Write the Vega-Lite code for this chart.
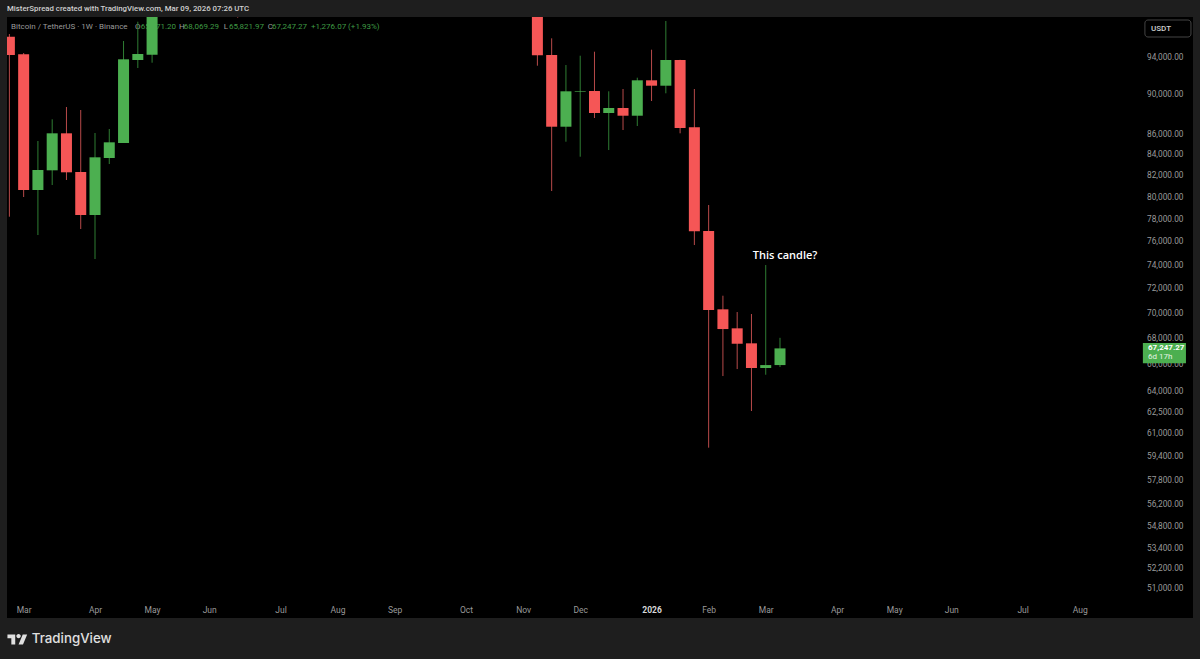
{
  "$schema": "https://vega.github.io/schema/vega-lite/v6.json",
  "width": 1186,
  "height": 601,
  "autosize": "none",
  "padding": {"left": 7, "top": 17, "right": 7, "bottom": 41},
  "background": "#1e1e1e",
  "title": {
    "text": "MisterSpread created with TradingView.com, Mar 09, 2026 07:26 UTC",
    "anchor": "start",
    "frame": "group",
    "offset": 4,
    "font": "Roboto",
    "fontSize": 7.8,
    "fontWeight": 500,
    "color": "#d0d0d0"
  },
  "config": {"view": {"fill": "#000000", "stroke": null}},
  "datasets": {
    "candles": [
      {"date": "2025-02-24", "open": 96219, "high": 96518, "low": 78236, "close": 94216},
      {"date": "2025-03-03", "open": 94291, "high": 94433, "low": 80028, "close": 80675},
      {"date": "2025-03-10", "open": 80675, "high": 85349, "low": 76607, "close": 82551},
      {"date": "2025-03-17", "open": 82522, "high": 87504, "low": 81139, "close": 86107},
      {"date": "2025-03-24", "open": 86107, "high": 88750, "low": 81607, "close": 82333},
      {"date": "2025-03-31", "open": 82362, "high": 88445, "low": 77138, "close": 78389},
      {"date": "2025-04-07", "open": 78389, "high": 86137, "low": 74523, "close": 83764},
      {"date": "2025-04-14", "open": 83698, "high": 86534, "low": 83122, "close": 85220},
      {"date": "2025-04-21", "open": 85153, "high": 95745, "low": 85153, "close": 93752},
      {"date": "2025-04-28", "open": 93677, "high": 97893, "low": 92819, "close": 94325},
      {"date": "2025-05-05", "open": 94249, "high": 104300, "low": 93386, "close": 104000},
      {"date": "2025-06-16", "open": 105500, "high": 108900, "low": 98350, "close": 100900},
      {"date": "2025-11-10", "open": 104700, "high": 106000, "low": 93065, "close": 94183},
      {"date": "2025-11-17", "open": 94216, "high": 96042, "low": 80582, "close": 86763},
      {"date": "2025-11-24", "open": 86763, "high": 93139, "low": 85280, "close": 90366},
      {"date": "2025-12-01", "open": 90335, "high": 94140, "low": 83822, "close": 90397},
      {"date": "2025-12-08", "open": 90397, "high": 94574, "low": 87635, "close": 88140},
      {"date": "2025-12-15", "open": 88140, "high": 90366, "low": 84469, "close": 88649},
      {"date": "2025-12-22", "open": 88649, "high": 90606, "low": 86434, "close": 87867},
      {"date": "2025-12-29", "open": 87867, "high": 91791, "low": 86832, "close": 91516},
      {"date": "2026-01-05", "open": 91516, "high": 94792, "low": 89365, "close": 90950},
      {"date": "2026-01-12", "open": 90950, "high": 97971, "low": 90159, "close": 93677},
      {"date": "2026-01-19", "open": 93677, "high": 93700, "low": 86107, "close": 86633},
      {"date": "2026-01-26", "open": 86704, "high": 90606, "low": 75732, "close": 76934},
      {"date": "2026-02-02", "open": 76960, "high": 79296, "low": 59995, "close": 70279},
      {"date": "2026-02-09", "open": 70336, "high": 71445, "low": 65144, "close": 68760},
      {"date": "2026-02-16", "open": 68816, "high": 70117, "low": 65671, "close": 67608},
      {"date": "2026-02-23", "open": 67640, "high": 69957, "low": 62578, "close": 65747},
      {"date": "2026-03-02", "open": 65747, "high": 74009, "low": 65242, "close": 65971.2},
      {"date": "2026-03-09", "open": 65971.2, "high": 68069.29, "low": 65821.97, "close": 67247.27}
    ]
  },
  "data": {"name": "candles"},
  "encoding": {
    "x": {
      "field": "date",
      "type": "temporal",
      "title": null,
      "scale": {
        "type": "utc",
        "padding": 0,
        "domain": ["2025-02-22T20:00:00Z", "2026-09-27T14:00:00Z"]
      },
      "axis": {
        "values": ["2025-03-03", "2025-04-07", "2025-05-05", "2025-06-02", "2025-07-07", "2025-08-04", "2025-09-01", "2025-10-06", "2025-11-03", "2025-12-01", "2026-01-05", "2026-02-02", "2026-03-02", "2026-04-06", "2026-05-04", "2026-06-01", "2026-07-06", "2026-08-03"],
        "labelExpr": "utcmonth(datum.value) == 0 ? '2026' : utcFormat(datum.value, '%b')",
        "labelFontWeight": {"condition": {"test": "utcmonth(datum.value) == 0", "value": "bold"}, "value": "normal"},
        "labelColor": {"condition": {"test": "utcmonth(datum.value) == 0", "value": "#d8d8d8"}, "value": "#9a9a9a"},
        "labelFont": "Roboto",
        "labelFontSize": 8.5,
        "labelBaseline": "alphabetic",
        "labelPadding": -6,
        "labelAngle": 0,
        "labelOverlap": false,
        "labelBound": false,
        "labelFlush": false,
        "domain": false,
        "ticks": false,
        "grid": false
      }
    }
  },
  "layer": [
    {
      "data": {"values": [
        {"date": "2025-02-24T19:00:00Z", "price": 97297, "label": "Bitcoin / TetherUS · 1W · Binance"},
        {"date": "2025-04-26T14:00:00Z", "price": 97297, "label": "O"},
        {"date": "2025-05-18T05:00:00Z", "price": 97297, "label": "H"},
        {"date": "2025-06-09T05:00:00Z", "price": 97297, "label": "L"},
        {"date": "2025-06-30T19:00:00Z", "price": 97297, "label": "C"}
      ]},
      "mark": {"type": "text", "align": "left", "baseline": "middle", "font": "Roboto", "fontSize": 8, "color": "#9a9a9a"},
      "encoding": {
        "y": {
          "field": "price",
          "type": "quantitative",
          "title": null,
          "scale": {"type": "log", "domain": [49328, 98424], "zero": false, "nice": false},
          "axis": {
            "orient": "right",
            "values": [94000, 90000, 86000, 84000, 82000, 80000, 78000, 76000, 74000, 72000, 70000, 68000, 66000, 64000, 62500, 61000, 59400, 57800, 56200, 54800, 53400, 52200, 51000],
            "format": ",.2f",
            "labelColor": "#9a9a9a",
            "labelFont": "Roboto",
            "labelFontSize": 8.3,
            "labelAlign": "right",
            "labelPadding": -10,
            "labelOverlap": false,
            "labelBound": false,
            "domain": false,
            "ticks": false,
            "grid": false
          }
        },
        "text": {"field": "label"}
      }
    },
    {
      "data": {"values": [
        {"date": "2025-04-29T12:00:00Z", "price": 97297, "label": "65,971.20"},
        {"date": "2025-05-20T14:00:00Z", "price": 97297, "label": "68,069.29"},
        {"date": "2025-06-11T17:00:00Z", "price": 97297, "label": "65,821.97"},
        {"date": "2025-07-02T19:00:00Z", "price": 97297, "label": "67,247.27"},
        {"date": "2025-07-21T22:00:00Z", "price": 97297, "label": "+1,276.07 (+1.93%)"}
      ]},
      "mark": {"type": "text", "align": "left", "baseline": "middle", "font": "Roboto", "fontSize": 8, "color": "#3f9b44"},
      "encoding": {
        "y": {"field": "price", "type": "quantitative"},
        "text": {"field": "label"}
      }
    },
    {
      "mark": {"type": "rule", "strokeWidth": 1, "clip": true},
      "encoding": {
        "y": {"field": "low", "type": "quantitative"},
        "y2": {"field": "high"},
        "color": {"condition": {"test": "datum.open < datum.close", "value": "#2f7d33"}, "value": "#b84a4a"}
      }
    },
    {
      "mark": {"type": "bar", "width": 11, "clip": true},
      "encoding": {
        "y": {"field": "open", "type": "quantitative"},
        "y2": {"field": "close"},
        "color": {"condition": {"test": "datum.open < datum.close", "value": "#4caf50"}, "value": "#f55656"}
      }
    },
    {
      "data": {"values": [{"date": "2026-02-23T15:00:00Z", "price": 74790, "label": "This candle?"}]},
      "mark": {"type": "text", "align": "left", "baseline": "middle", "font": "Open Sans", "fontSize": 11, "fontWeight": 600, "color": "#ffffff"},
      "encoding": {
        "y": {"field": "price", "type": "quantitative"},
        "text": {"field": "label"}
      }
    },
    {
      "data": {"values": [{"date": "2026-09-03", "end": "2026-09-24T03:00:00Z", "price": 67665, "bottom": 66102}]},
      "mark": {"type": "rect", "color": "#4caf50"},
      "encoding": {
        "x2": {"field": "end"},
        "y": {"field": "price", "type": "quantitative"},
        "y2": {"field": "bottom"}
      }
    },
    {
      "data": {"values": [{"date": "2026-09-05T12:00:00Z", "price": 67300, "label": "67,247.27"}]},
      "mark": {"type": "text", "align": "left", "baseline": "middle", "font": "Roboto", "fontSize": 8, "fontWeight": "bold", "color": "#ffffff"},
      "encoding": {
        "y": {"field": "price", "type": "quantitative"},
        "text": {"field": "label"}
      }
    },
    {
      "data": {"values": [{"date": "2026-09-05T12:00:00Z", "price": 66560, "label": "6d 17h"}]},
      "mark": {"type": "text", "align": "left", "baseline": "middle", "font": "Roboto", "fontSize": 8, "color": "#e4f4e4"},
      "encoding": {
        "y": {"field": "price", "type": "quantitative"},
        "text": {"field": "label"}
      }
    },
    {
      "data": {"values": [{"date": "2026-09-04", "end": "2026-09-26T14:00:00Z", "price": 98084, "bottom": 96186}]},
      "mark": {"type": "rect", "fillOpacity": 0, "stroke": "#444444", "strokeWidth": 1, "cornerRadius": 3},
      "encoding": {
        "x2": {"field": "end"},
        "y": {"field": "price", "type": "quantitative"},
        "y2": {"field": "bottom"}
      }
    },
    {
      "data": {"values": [{"date": "2026-09-07", "price": 97074, "label": "USDT"}]},
      "mark": {"type": "text", "align": "left", "baseline": "middle", "font": "Roboto", "fontSize": 8, "fontWeight": 500, "color": "#d0d0d0"},
      "encoding": {
        "y": {"field": "price", "type": "quantitative"},
        "text": {"field": "label"}
      }
    },
    {
      "data": {"values": [{"date": "2025-02-27T23:00:00Z", "price": 48097}]},
      "mark": {
        "type": "point",
        "filled": true,
        "size": 400,
        "opacity": 1,
        "color": "#e0e0e0",
        "shape": "M-.222 .444H-.611V-.167H-1V-.556H-.222ZM.556 .444H.111L.528 -.556H.972ZM-.111 -.389a.222 .222 0 1 0 .444 0a.222 .222 0 1 0 -.444 0Z"
      },
      "encoding": {
        "y": {"field": "price", "type": "quantitative"}
      }
    },
    {
      "data": {"values": [{"date": "2025-03-07T00:00:00Z", "price": 48152, "label": "TradingView"}]},
      "mark": {"type": "text", "align": "left", "baseline": "middle", "font": "Inter", "fontSize": 13.3, "fontWeight": 500, "color": "#e0e0e0"},
      "encoding": {
        "y": {"field": "price", "type": "quantitative"},
        "text": {"field": "label"}
      }
    }
  ]
}
